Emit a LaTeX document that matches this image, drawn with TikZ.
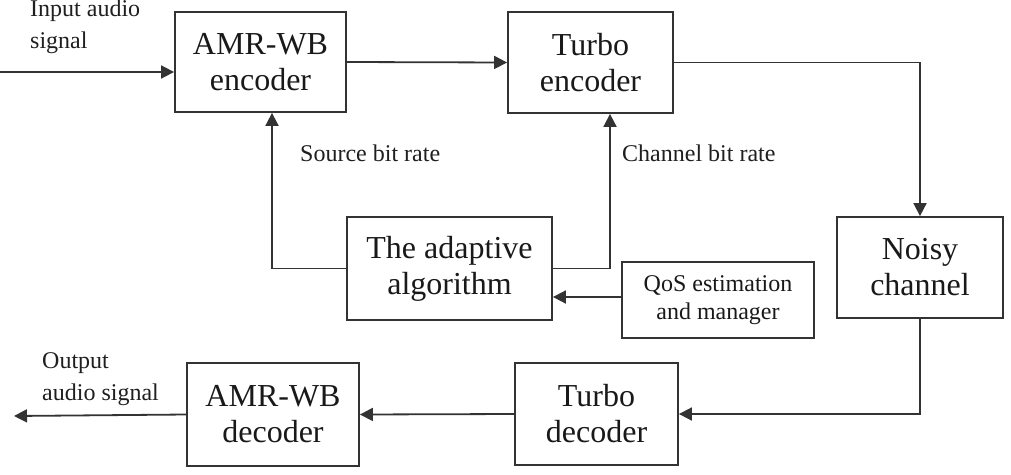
\documentclass[tikz,border=0pt]{standalone}
\usepackage{fontspec}
\setmainfont{Liberation Serif}
\usetikzlibrary{arrows.meta,calc}
\begin{document}
\begin{tikzpicture}[x=1pt,y=-1pt,
  box/.style={draw=black!80, line width=1.8pt, inner sep=0pt, align=center,
    text=black!90, font=\fontsize{32}{36}\selectfont},
  smallbox/.style={box, font=\fontsize{24}{28}\selectfont},
  lbl/.style={inner sep=0pt, align=left, text=black!88, font=\fontsize{24}{32}\selectfont},
  arr/.style={draw=black!80, line width=1.8pt, -{Triangle[length=13pt,width=13pt]}},
  ln/.style={draw=black!80, line width=1.8pt}]
\useasboundingbox (0,0) rectangle (1011,474);

\node[box, minimum width=171pt, minimum height=100pt] (enc) at (260.5,62) {AMR-WB\\encoder};
\node[box, minimum width=165pt, minimum height=101pt] (tenc) at (590.5,62.5) {Turbo\\encoder};
\node[box, minimum width=205pt, minimum height=103pt] (adapt) at (449.5,268.5) {The adaptive\\algorithm};
\node[smallbox, minimum width=192pt, minimum height=76pt] (qos) at (718,300) {QoS estimation\\and manager};
\node[box, minimum width=166pt, minimum height=101pt] (noisy) at (920,267.5) {Noisy\\channel};
\node[box, minimum width=163pt, minimum height=102pt] (tdec) at (596.5,414) {Turbo\\decoder};
\node[box, minimum width=172pt, minimum height=103pt] (dec) at (273,414.5) {AMR-WB\\decoder};

\node[lbl, anchor=west] (inlbl) at (30,27) {Input audio\\signal};
\node[lbl, anchor=west] (outlbl) at (42,379) {Output\\audio signal};
\node[lbl, anchor=west] (srclbl) at (300,153) {Source bit rate};
\node[lbl, anchor=west] (chlbl) at (622,153) {Channel bit rate};

\coordinate (in) at (0,72);
\coordinate (out) at (14,416);

\draw[arr] (in) -- (in -| enc.west);
\draw[arr] (enc.east) -- (tenc.west);
\draw[arr] (tenc.east) -| (noisy.north);
\draw[arr] (noisy.south) |- (tdec.east);
\draw[arr] (tdec.west) -- (dec.east);
\draw[arr] (dec.west) -- (out);
\draw[arr] (adapt.west) -| ([xshift=11.5pt]enc.south);
\draw[arr] (adapt.east) -| ([xshift=19.5pt]tenc.south);
\draw[arr] ([yshift=3pt]qos.west) -- ([yshift=3pt]qos.west -| adapt.east);
\end{tikzpicture}
\end{document}
